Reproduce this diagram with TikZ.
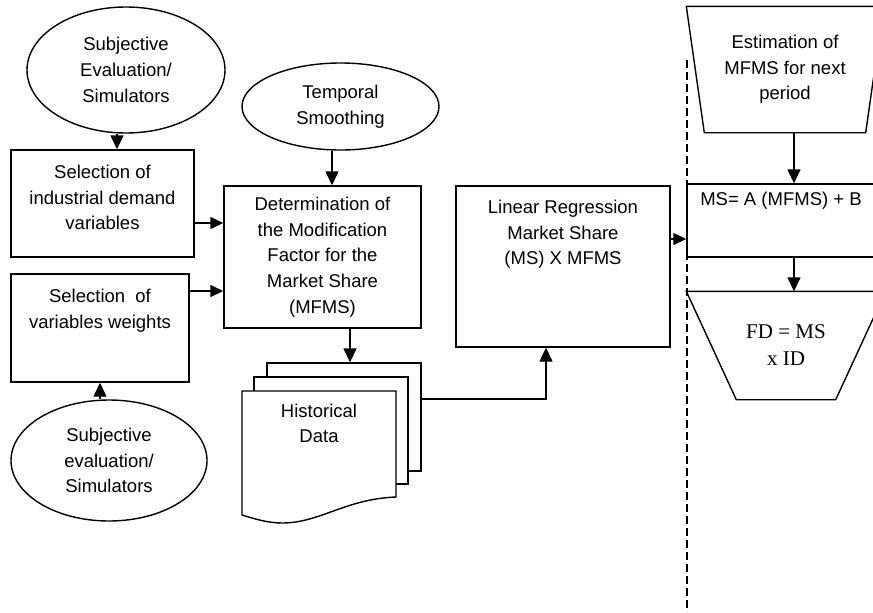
\documentclass[tikz,border=0pt]{standalone}
\usepackage{fontspec}
\setmainfont{Liberation Sans}
\newfontfamily\timesfont{Liberation Serif}
\usetikzlibrary{shapes.geometric,arrows.meta}
\begin{document}
\begin{tikzpicture}[x=1pt,y=-1pt,
  line width=1.4pt,
  every node/.style={font=\fontsize{18.5}{25.7}\selectfont, align=center, inner sep=0pt},
  arr/.style={-{Triangle[length=14pt,width=13pt]}},
  sarr/.style={-{Triangle[length=13pt,width=12pt]}},
  ell/.style={draw, ellipse},
  plainbox/.style={draw, rectangle},
  page/.style={draw, rectangle, fill=white},
  toptext/.style={anchor=north}]
\useasboundingbox (0,0) rectangle (873,613);
\clip (0,0) rectangle (873,613);

% ellipses
\node[ell, minimum width=198, minimum height=126] (e1) at (126,70) {Subjective\\Evaluation/\\Simulators};
\node[ell, minimum width=197, minimum height=87] (e2) at (340.5,106.5) {Temporal\\Smoothing};
\node[ell, minimum width=196, minimum height=121] (e3) at (109,460.5) {Subjective\\evaluation/\\Simulators};

% boxes
\node[plainbox, minimum width=183, minimum height=107] (s1) at (102.5,203.5) {};
\node[toptext] (s1t) at ([yshift=-15pt]s1.north) {Selection of\\industrial demand\\variables};
\node[plainbox, minimum width=178, minimum height=108] (s2) at (100,328) {};
\node[toptext] (s2t) at ([yshift=-15pt]s2.north) {Selection \ of\\variables weights};
\node[plainbox, minimum width=197, minimum height=142] (det) at (322.5,257)
  {Determination of\\the Modification\\Factor for the\\Market Share\\(MFMS)};
\node[plainbox, minimum width=214, minimum height=161] (lr) at (563,266.5) {};
\node[toptext] (lrt) at ([yshift=-14pt]lr.north) {Linear Regression\\Market Share\\(MS) X MFMS};
\node[plainbox, minimum width=203, minimum height=73] (ms) at (788.5,220.5) {};
\node[toptext] (mst) at ([yshift=-8pt]ms.north -| 781,0) {MS= A (MFMS) + B};

% document stack
\node[page, minimum width=154, minimum height=108] (back) at (344,417) {};
\node[page, minimum width=154, minimum height=107] (mid) at (331,430.5) {};
\coordinate (ftl) at (242,391);
\coordinate (ftr) at (396,391);
\coordinate (fbr) at (396,497);
\coordinate (fbl) at (242,515);
\draw[fill=white] (ftl) -- (ftr) -- (fbr)
  .. controls (345,499) and (320,523) .. (282,523)
  .. controls (268,523) and (255,519) .. (fbl) -- cycle;
\node (hist) at (319,423.5) {Historical\\Data};

% right side: estimation trapezoid
\node[minimum width=196, minimum height=125] (est) at (785,69.5) {Estimation of\\MFMS for next\\period};
\draw (est.north west) -- (est.north east) -- ([xshift=-18pt]est.south east) -- ([xshift=18pt]est.south west) -- cycle;

% FD trapezoid
\node[minimum width=198, minimum height=107, font=\timesfont\fontsize{21}{27}\selectfont] (fd) at (786,345.5) {FD = MS\\x ID};
\draw (fd.north west) -- (fd.north east) -- ([xshift=-50pt]fd.south east) -- ([xshift=50pt]fd.south west) -- cycle;

% dashed separator
\coordinate (dtop) at (687,60);
\coordinate (dbot) at (687,612);
\draw[line width=1.2pt, dash pattern=on 8pt off 4pt] (dtop) -- (dbot);

% connectors
\draw[arr] ([xshift=-9pt]e1.south) -- ([xshift=-9pt]e1.south |- s1.north);
\draw[arr] ([xshift=-8.5pt]e2.south) -- ([xshift=-8.5pt]e2.south |- det.north);
\draw[arr] ([xshift=-9pt]e3.north) -- ([xshift=-9pt]e3.north |- s2.south);
\draw[sarr] ([yshift=-19.5pt]s1.east) -- ([yshift=-19.5pt]s1.east -| det.west);
\draw[sarr] ([yshift=37pt]s2.east) -- ([yshift=37pt]s2.east -| det.west);
\draw[arr] ([xshift=27.5pt]det.south) -- ([xshift=27.5pt]det.south |- back.north);
\draw[arr] ([yshift=18pt]back.east) -| ([xshift=-17pt]lr.south);
\draw[sarr] ([yshift=27.5pt]lr.east) -- ([yshift=27.5pt]lr.east -| ms.west);
\draw[arr] ([xshift=9pt]est.south) -- ([xshift=9pt]est.south |- ms.north);
\draw[arr] ([xshift=5.5pt]ms.south) -- ([xshift=5.5pt]ms.south |- fd.north);
\end{tikzpicture}
\end{document}
